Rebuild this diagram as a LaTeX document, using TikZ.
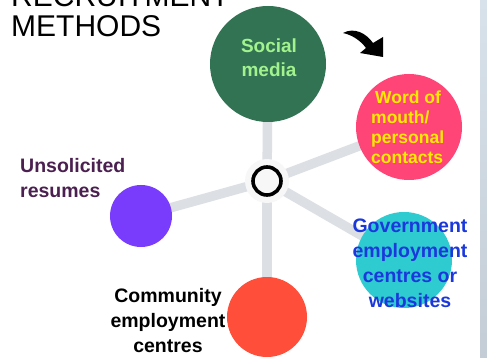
\documentclass[tikz,border=0pt]{standalone}
\usepackage{fontspec}
\setmainfont{Liberation Sans}
\usetikzlibrary{backgrounds}
\definecolor{smgreen}{HTML}{317352}
\definecolor{smtext}{HTML}{A2F28E}
\definecolor{wompink}{HTML}{FF4478}
\definecolor{womtext}{HTML}{FFEA00}
\definecolor{govteal}{HTML}{2ECBD0}
\definecolor{govtext}{HTML}{1A38DC}
\definecolor{comred}{HTML}{FF4E3A}
\definecolor{unpurple}{HTML}{7A3CFC}
\definecolor{untext}{HTML}{4B2050}
\definecolor{linkgray}{HTML}{DCDFE3}
\definecolor{stripA}{HTML}{D8E2EA}
\definecolor{stripB}{HTML}{C4CDD5}
\tikzset{
  blob/.style={circle, inner sep=0pt, draw=none},
  link/.style={draw=linkgray, line width=9.5pt},
  lbl/.style={inner sep=0pt, align=center, font=\bfseries\fontsize{19.5}{25}\selectfont, anchor=base},
}
\begin{document}
\begin{tikzpicture}[x=1pt,y=-1pt]
\useasboundingbox (0,0) rectangle (487,358);
\clip (0,0) rectangle (487,358);

% title
\node[anchor=base west, inner sep=0pt, font=\fontsize{30}{30}\selectfont] (t1) at (11,7) {RECRUITMENT};
\node[anchor=base west, inner sep=0pt, font=\fontsize{30}{30}\selectfont] (t2) at (11,37) {METHODS};

% circles
\node[blob, fill=smgreen, minimum size=116pt] (sm) at (268,64) {};
\node[blob, fill=wompink, minimum size=106pt] (wom) at (409,127) {};
\node[blob, fill=govteal, minimum size=96pt] (gov) at (404,260) {};
\node[blob, fill=comred, minimum size=80pt] (com) at (267,317) {};
\node[blob, fill=unpurple, minimum size=62pt] (uns) at (141,216) {};

% hub
\node[blob, fill=white!97!black, minimum size=44pt] (hub) at (267,181) {};
\node[circle, draw=black, line width=3.6pt, minimum size=28pt, inner sep=0pt] (ring) at (hub) {};

% background and connectors
\begin{scope}[on background layer]
\fill[white] (0,0) rectangle (487,358);
\shade[top color=stripA, bottom color=stripB] (480,0) rectangle (487,358);
\draw[link] (hub.center) -- (sm.center);
\draw[link] (hub.center) -- (wom.center);
\draw[link] (hub.center) -- (gov.center);
\draw[link] (hub.center) -- (com.center);
\draw[link] (hub.center) -- (uns.center);
\end{scope}

% labels (base anchor = baseline of last line)
\node[lbl, text=smtext, font=\bfseries\fontsize{19}{24}\selectfont] (smt) at (269,77) {Social\\media};
\node[lbl, text=womtext, align=left, anchor=base west, font=\bfseries\fontsize{17.5}{20}\selectfont] (womt) at (371,164) {\hspace{4pt}Word of\\mouth/\\personal\\contacts};
\node[lbl, text=govtext] (govt) at (410,307) {Government\\employment\\centres or\\websites};
\node[lbl, text=black] (comt) at (168,352) {Community\\employment\\centres};
\node[lbl, text=untext, align=left, anchor=base west] (unst) at (20,198) {Unsolicited\\resumes};

% curved arrow
\fill[black] (343,33) .. controls (354,27) and (366,33) .. (373,43)
  -- (383,37) -- (383,57) -- (360,53) -- (366,48)
  .. controls (360,40) and (352,35) .. (343,33) -- cycle;
\end{tikzpicture}
\end{document}
